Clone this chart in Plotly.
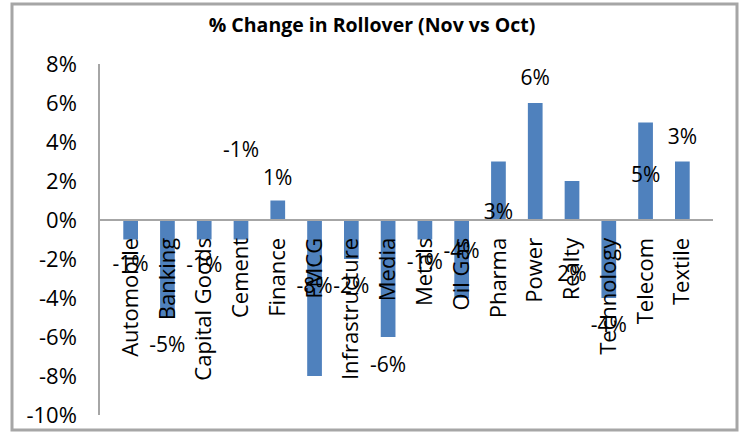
import plotly.graph_objects as go

categories = ["Automobile", "Banking", "Capital Goods", "Cement", "Finance", "FMCG",
              "Infrastructure", "Media", "Metals", "Oil Gas", "Pharma", "Power",
              "Realty", "Technology", "Telecom", "Textile"]
values = [-1, -5, -1, -1, 1, -8, -2, -6, -1, -4, 3, 6, 2, -4, 5, 3]
labels = ["-1%", "-5%", "-1%", "-1%", "1%", "-8%", "-2%", "-6%", "-1%", "-4%",
          "3%", "6%", "2%", "-4%", "5%", "3%"]
# data-label placement (in % units) as drawn in the original chart
label_y = [-2.34, -6.5, -2.4, 3.48, 2.08, -3.48, -3.48, -7.5, -2.23, -1.66,
           0.3, 7.17, -2.86, -5.45, 2.23, 4.16]
y_ticks = [-10, -8, -6, -4, -2, 0, 2, 4, 6, 8]
y_tick_text = [f"{v}%" for v in y_ticks]

FONT = "Open Sans"
ymin, ymax = -10, 8

fig = go.Figure()
fig.add_trace(go.Bar(x=categories, y=values, marker_color="#4F81BD",
                     marker_line_width=0, hoverinfo="skip"))
fig.add_trace(go.Scatter(x=categories, y=label_y, mode="text", text=labels,
                         textposition="middle center",
                         textfont=dict(family=FONT, size=21, color="#000000"),
                         hoverinfo="skip"))

fig.update_layout(
    width=744, height=436,
    margin=dict(l=100, r=31, t=64, b=21),
    paper_bgcolor="white", plot_bgcolor="white",
    showlegend=False, bargap=0.6,
    title=dict(text="<b>% Change in Rollover (Nov vs Oct)</b>", x=0.5, xanchor="center",
               y=1 - 25 / 436, yanchor="middle", yref="container",
               font=dict(family=FONT, size=19.5, color="#000000")),
    xaxis=dict(anchor="free", position=(0 - ymin) / (ymax - ymin), automargin=False,
               showline=True, linecolor="#A6A6A6", linewidth=2,
               showgrid=False, zeroline=False, ticks="",
               tickangle=-90, ticklabelstandoff=8,
               tickfont=dict(family=FONT, size=22, color="#000000")),
    yaxis=dict(range=[ymin, ymax], tickvals=y_ticks, ticktext=y_tick_text, automargin=False,
               showline=True, linecolor="#A6A6A6", linewidth=1.5,
               showgrid=False, zeroline=False, ticks="", ticklabelstandoff=17,
               tickfont=dict(family=FONT, size=22, color="#000000")),
    shapes=[dict(type="rect", xref="paper", yref="paper",
                 x0=(12 - 100) / 613, x1=(737 - 100) / 613,
                 y0=(415 - 430) / 351, y1=(415 - 4) / 351,
                 line=dict(color="#A6A6A6", width=3), layer="below")],
)

fig.write_html("out.html", config={"displayModeBar": False},
               post_script="document.body.style.margin='0';")
